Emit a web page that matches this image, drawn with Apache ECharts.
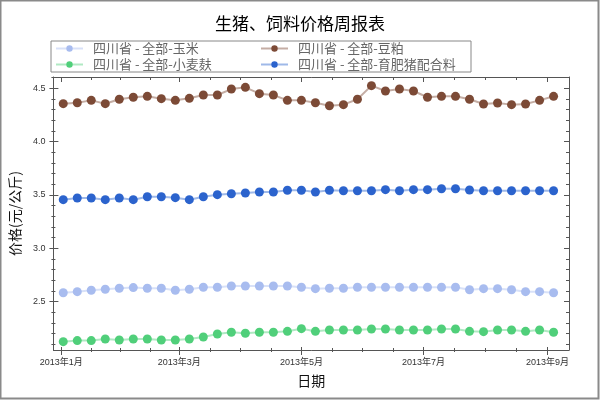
<!DOCTYPE html>
<html>
<head>
<meta charset="utf-8">
<script src="https://cdn.jsdelivr.net/npm/echarts@6/dist/echarts.min.js"></script>
<style>
  html, body { margin: 0; padding: 0; background: #fff; }
  #chart { width: 600px; height: 400px; }
</style>
</head>
<body>
<div id="chart"></div>
<script>
let dates = [
  '2013-01-02', '2013-01-09', '2013-01-16', '2013-01-23', '2013-01-30',
  '2013-02-06', '2013-02-13', '2013-02-20', '2013-02-27',
  '2013-03-06', '2013-03-13', '2013-03-20', '2013-03-27',
  '2013-04-03', '2013-04-10', '2013-04-17', '2013-04-24',
  '2013-05-01', '2013-05-08', '2013-05-15', '2013-05-22', '2013-05-29',
  '2013-06-05', '2013-06-12', '2013-06-19', '2013-06-26',
  '2013-07-03', '2013-07-10', '2013-07-17', '2013-07-24', '2013-07-31',
  '2013-08-07', '2013-08-14', '2013-08-21', '2013-08-28',
  '2013-09-04'
]
let names = ['四川省 - 全部-玉米', '四川省 - 全部-豆粕', '四川省 - 全部-小麦麸', '四川省 - 全部-育肥猪配合料']
let corn = [2.584, 2.594, 2.607, 2.616, 2.626, 2.632, 2.626, 2.626, 2.607, 2.616, 2.635, 2.635,
  2.647, 2.647, 2.647, 2.647, 2.647, 2.635, 2.622, 2.626, 2.626, 2.635, 2.635, 2.635,
  2.635, 2.635, 2.635, 2.635, 2.635, 2.612, 2.622, 2.622, 2.612, 2.594, 2.594, 2.584]
let soymeal = [4.356, 4.365, 4.387, 4.356, 4.397, 4.416, 4.425, 4.403, 4.387, 4.406, 4.437, 4.437,
  4.493, 4.509, 4.450, 4.437, 4.387, 4.387, 4.365, 4.337, 4.347, 4.397, 4.525, 4.475,
  4.493, 4.475, 4.416, 4.425, 4.425, 4.397, 4.353, 4.362, 4.347, 4.353, 4.387, 4.425]
let bran = [2.125, 2.135, 2.135, 2.150, 2.141, 2.150, 2.150, 2.141, 2.141, 2.150, 2.169, 2.197,
  2.213, 2.204, 2.213, 2.213, 2.222, 2.247, 2.222, 2.235, 2.235, 2.235, 2.244, 2.244,
  2.235, 2.235, 2.235, 2.244, 2.244, 2.222, 2.219, 2.235, 2.235, 2.222, 2.235, 2.213]
let feed = [3.456, 3.472, 3.472, 3.456, 3.472, 3.456, 3.484, 3.484, 3.475, 3.456, 3.484, 3.503,
  3.512, 3.519, 3.528, 3.528, 3.544, 3.544, 3.528, 3.544, 3.540, 3.540, 3.540, 3.550,
  3.540, 3.550, 3.550, 3.559, 3.559, 3.547, 3.540, 3.540, 3.540, 3.540, 3.540, 3.540]
let colors = ['#a8bcef', '#7c4a36', '#50cf7a', '#2b63cd']

let xMajorTicks = ['2013-01-01', '2013-03-01', '2013-05-01', '2013-07-01', '2013-09-01']
let yMajorTicks = [2.5, 3.0, 3.5, 4.0, 4.5]
let yMinorTicks = [2.1, 2.2, 2.3, 2.4, 2.6, 2.7, 2.8, 2.9, 3.1, 3.2, 3.3, 3.4, 3.6, 3.7, 3.8, 3.9,
  4.1, 4.2, 4.3, 4.4, 4.6]
let yMin = 2.047
let yMax = 4.606

function toTs(s) {
  let p = s.split('-').map(Number)
  return new Date(p[0], p[1] - 1, p[2]).getTime()
}

let xMin = toTs('2012-12-28') + 2 * 3600000
let xMax = toTs('2013-09-11') + 17 * 3600000

// minor date ticks split each major gap in four
let majorTs = xMajorTicks.map(toTs)
let xMinorTicks = []
for (let i = 0; i < majorTs.length - 1; i++) {
  let step = (majorTs[i + 1] - majorTs[i]) / 4
  for (let k = 1; k < 4; k++) xMinorTicks.push(majorTs[i] + k * step)
}

let axisColor = '#555'
let cjk = '"Liberation Sans", "Noto Sans CJK SC", sans-serif'

function xTicks(position, values, length, offset, inside, showLine) {
  return {
    type: 'value', min: xMin, max: xMax, position: position, offset: offset,
    axisLine: {show: showLine, onZero: false, lineStyle: {color: axisColor, width: 1}},
    axisTick: {show: true, inside: inside, customValues: values, length: length, lineStyle: {color: axisColor}},
    axisLabel: {show: false}, splitLine: {show: false}
  }
}

function yTicks(position, values, length, offset, inside, showLine) {
  return {
    type: 'value', min: yMin, max: yMax, position: position, offset: offset,
    axisLine: {show: showLine, onZero: false, lineStyle: {color: axisColor, width: 1}},
    axisTick: {show: true, inside: inside, customValues: values, length: length, lineStyle: {color: axisColor}},
    axisLabel: {show: false}, splitLine: {show: false}
  }
}

let chart = echarts.init(document.getElementById('chart'))

let series = [corn, soymeal, bran, feed].map(function (vals, i) {
  return {
    name: names[i],
    type: 'line',
    xAxisIndex: 0,
    yAxisIndex: 0,
    data: dates.map(function (d, j) { return [toTs(d), vals[j]] }),
    symbol: 'circle',
    symbolSize: 9,
    itemStyle: {color: colors[i]},
    lineStyle: {color: colors[i], width: 2, opacity: 0.45},
    emphasis: {disabled: true}
  }
})

chart.setOption({
  animation: false,
  backgroundColor: '#fff',
  title: {
    text: '生猪、饲料价格周报表',
    left: 'center',
    top: 10,
    textStyle: {fontSize: 17, fontWeight: 'normal', color: '#000', fontFamily: '"Noto Sans CJK SC", sans-serif'}
  },
  legend: {
    data: names,
    left: 51,
    top: 41,
    width: 420,
    orient: 'horizontal',
    itemWidth: 27,
    itemHeight: 8,
    itemGap: 3,
    padding: [1, 9, 1, 4],
    borderColor: '#888',
    borderWidth: 1,
    borderRadius: 0,
    textStyle: {fontSize: 13, color: '#666', width: 164, lineHeight: 13, padding: [0, 0, 0, 5],
      fontFamily: '"Noto Sans CJK SC", sans-serif'}
  },
  grid: {left: 51, right: 31, top: 77, bottom: 50, containLabel: false},
  graphic: [{
    type: 'rect', silent: true, z: 100,
    shape: {x: 0.5, y: 0.5, width: 598, height: 398},
    style: {fill: 'none', stroke: '#8a8a8a', lineWidth: 2}
  }],
  xAxis: [
    {
      type: 'value', min: xMin, max: xMax, position: 'bottom',
      name: '日期', nameLocation: 'middle', nameGap: 24,
      nameTextStyle: {fontSize: 14, color: '#111', fontFamily: '"Noto Sans CJK SC", sans-serif'},
      axisLine: {show: true, onZero: false, lineStyle: {color: axisColor, width: 1}},
      axisTick: {show: false},
      axisLabel: {
        customValues: majorTs, margin: 8, fontSize: 9, color: '#333', fontFamily: cjk,
        formatter: function (v) {
          let d = new Date(v)
          return d.getFullYear() + '年' + (d.getMonth() + 1) + '月'
        }
      },
      splitLine: {show: false}
    },
    xTicks('bottom', majorTs, 8, -3, false, false),
    xTicks('bottom', xMinorTicks, 4, -2, false, false),
    xTicks('top', majorTs, 5, 0, true, true),
    xTicks('top', xMinorTicks, 3, 0, true, false)
  ],
  yAxis: [
    {
      type: 'value', min: yMin, max: yMax, position: 'left',
      name: '价格(元/公斤)', nameLocation: 'middle', nameGap: 25,
      nameTextStyle: {fontSize: 14, color: '#111', fontFamily: '"Noto Sans CJK SC", sans-serif'},
      axisLine: {show: true, onZero: false, lineStyle: {color: axisColor, width: 1}},
      axisTick: {show: false},
      axisLabel: {customValues: yMajorTicks, margin: 8, fontSize: 9, color: '#333', fontFamily: cjk,
        formatter: function (v) { return v.toFixed(1) }},
      splitLine: {show: false}
    },
    yTicks('left', yMajorTicks, 9, -5, false, false),
    yTicks('left', yMinorTicks, 4, -2, false, false),
    yTicks('right', yMajorTicks, 5, 0, true, true),
    yTicks('right', yMinorTicks, 3, 0, true, false)
  ],
  series: series
})
</script>
</body>
</html>
